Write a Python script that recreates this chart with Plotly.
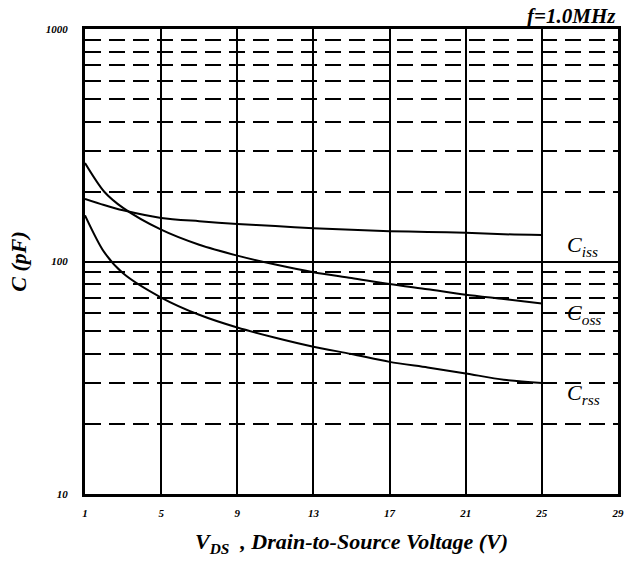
import math
import plotly.graph_objects as go

vds = [1, 2, 3, 5, 7, 9, 11, 13, 15, 17, 19, 21, 23, 25]
ciss = [186, 175, 166, 154, 149, 145, 142, 139, 137, 135, 134, 133, 131, 130]
coss = [265, 200, 170, 137, 118, 106, 97, 90, 85, 80, 76, 72, 69, 66]
crss = [158, 110, 89, 70, 59, 52, 47, 43, 40, 37, 35, 33, 31, 30]

xticks = [1, 5, 9, 13, 17, 21, 25, 29]
yticks = [10, 100, 1000]

serif = "Liberation Serif"
fig = go.Figure()
for name, ys in [("iss", ciss), ("oss", coss), ("rss", crss)]:
    fig.add_trace(go.Scatter(x=vds, y=ys, mode="lines",
                             line=dict(color="black", width=2, shape="spline", smoothing=0.8),
                             showlegend=False, hoverinfo="skip"))
    fig.add_annotation(x=vds[-1] + 1.2, y=math.log10(ys[-1]), xref="x", yref="y",
                       text=f"<i>C<sub>{name}</sub></i>", showarrow=False,
                       xanchor="left", yanchor="middle", yshift=-11,
                       font=dict(family=serif, size=22, color="black"))

fig.add_annotation(x=1, y=1, xref="paper", yref="paper", xanchor="right", yanchor="bottom",
                   text="<b><i>f=1.0MHz</i></b>", showarrow=False,
                   font=dict(family=serif, size=21, color="black"), yshift=-1)

tickfont = dict(family=serif, size=11, color="black", weight="bold", style="italic")
fig.update_layout(
    width=636, height=563,
    margin=dict(l=85, r=13, t=29, b=69),
    paper_bgcolor="white", plot_bgcolor="white",
    xaxis=dict(range=[1, 29], tickvals=xticks, ticktext=[str(v) for v in xticks],
               showgrid=True, gridcolor="black", gridwidth=1.5,
               showline=True, linecolor="black", linewidth=3, mirror=True,
               ticks="", zeroline=False, ticklabelstandoff=7,
               tickfont=tickfont,
               title=dict(text="<b><i>V<sub>DS</sub>  , Drain-to-Source Voltage (V)</i></b>",
                          font=dict(family=serif, size=22, color="black"), standoff=16)),
    yaxis=dict(type="log", range=[1, 3], tickvals=yticks, ticktext=[str(v) for v in yticks],
               showgrid=True, gridcolor="black", gridwidth=1.5,
               showline=True, linecolor="black", linewidth=3, mirror=True,
               ticks="", zeroline=False, ticklabelstandoff=12,
               minor=dict(dtick="D1", showgrid=True, griddash="16px,8px",
                          gridcolor="black", gridwidth=1.5, ticks=""),
               tickfont=tickfont,
               title=dict(text="<b><i>C (pF)</i></b>",
                          font=dict(family=serif, size=22, color="black"), standoff=14)),
)

fig.write_html("out.html")
